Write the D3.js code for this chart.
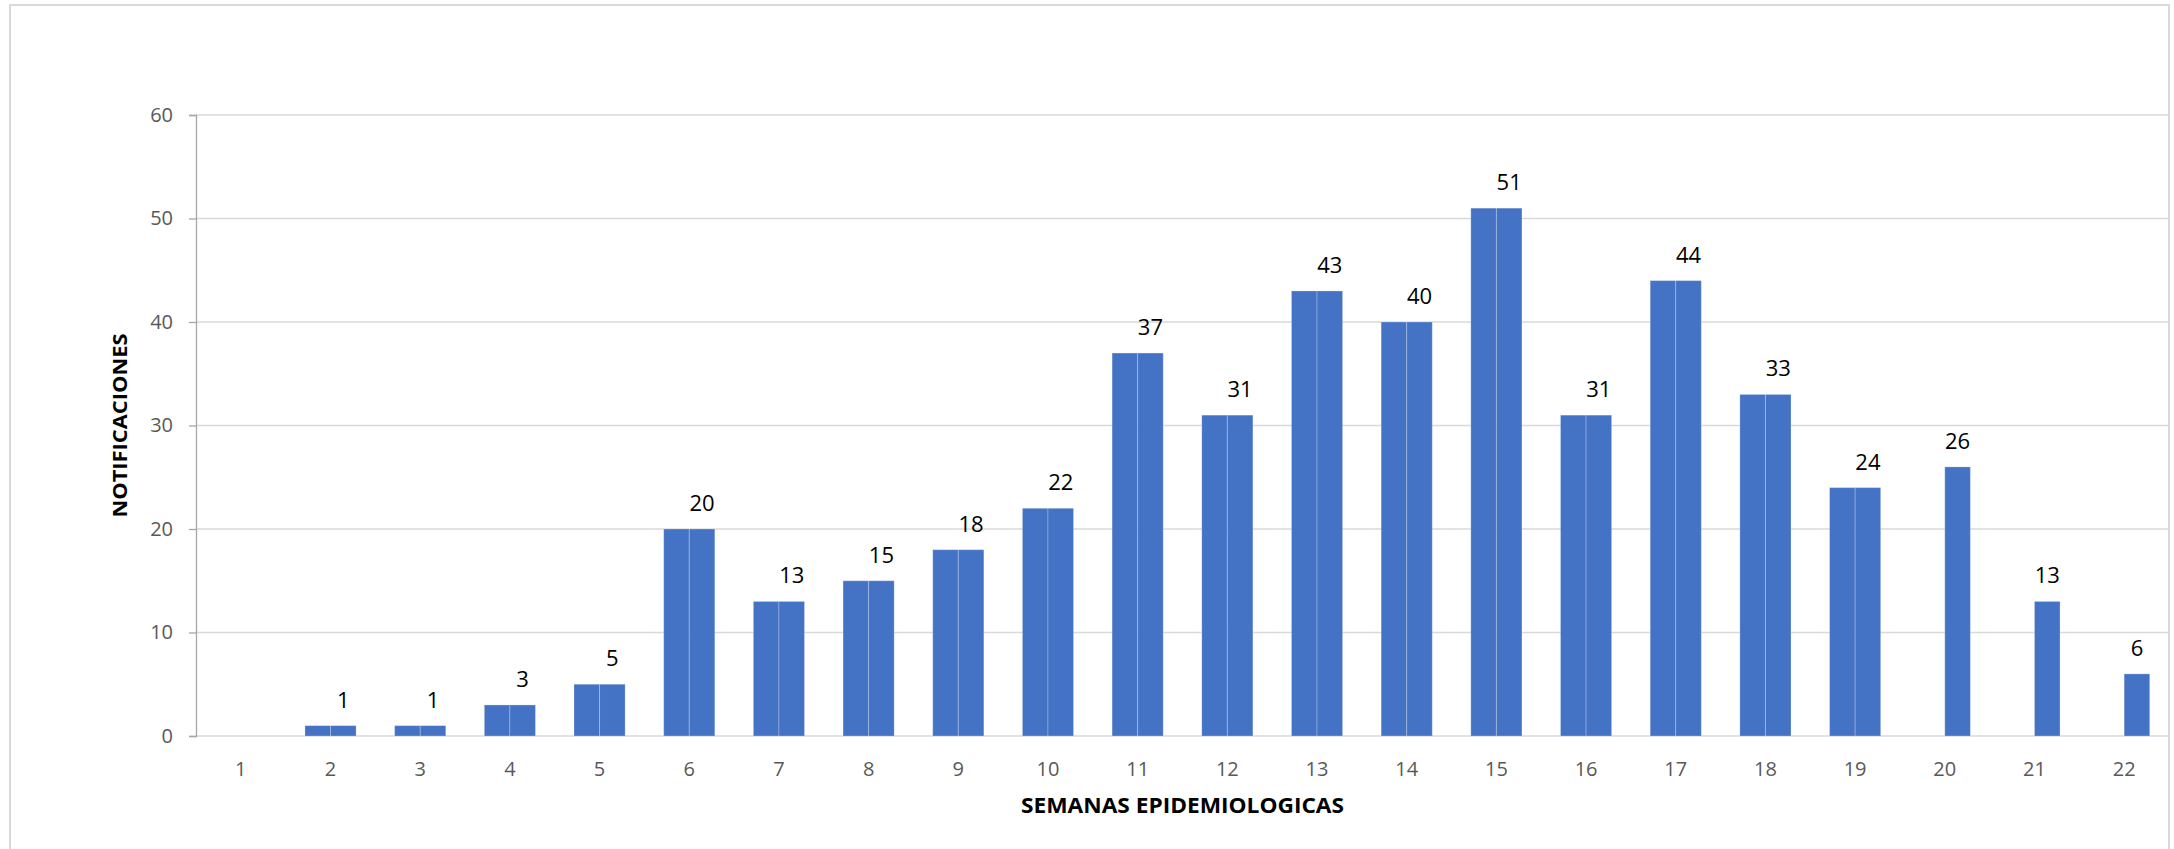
<!DOCTYPE html>
<html>
<head>
<meta charset="utf-8">
<script src="https://cdn.jsdelivr.net/npm/d3@7"></script>
<style>
  html, body { margin: 0; padding: 0; background: #ffffff; }
  svg { display: block; }
</style>
</head>
<body>
<svg id="chart" width="2174" height="849"></svg>
<script>
// ---- data ----
const weeks = ["1","2","3","4","5","6","7","8","9","10","11","12","13","14","15","16","17","18","19","20","21","22"];
const seriesA = [null,1,1,3,5,20,13,15,18,22,37,31,43,40,51,31,44,33,24,null,null,null];
const seriesB = [null,1,1,3,5,20,13,15,18,22,37,31,43,40,51,31,44,33,24,26,13,6];
const yTicks = [0,10,20,30,40,50,60];
const xTitle = "SEMANAS EPIDEMIOLOGICAS";
const yTitle = "NOTIFICACIONES";

// ---- layout ----
const svg = d3.select("#chart");
const plot = { left: 196, right: 2169, top: 115, bottom: 736 };
const font = "'Open Sans', 'Liberation Sans', sans-serif";

// chart border
svg.append("rect")
  .attr("x", 10).attr("y", 5)
  .attr("width", 2159).attr("height", 870)
  .attr("fill", "#ffffff")
  .attr("stroke", "#d9d9d9").attr("stroke-width", 2);

const x = d3.scaleBand().domain(weeks).range([plot.left, plot.right]).paddingInner(0).paddingOuter(0);
const bw = x.bandwidth();
const x1 = d3.scaleBand().domain(["A","B"]).range([bw * 0.215, bw * 0.785]).padding(0);
const y = d3.scaleLinear().domain([0, 60]).range([plot.bottom, plot.top]);

// gridlines
svg.append("g").selectAll("line")
  .data(yTicks)
  .join("line")
  .attr("x1", plot.left).attr("x2", plot.right)
  .attr("y1", d => y(d)).attr("y2", d => y(d))
  .attr("stroke", "#d9d9d9").attr("stroke-width", 1.5);

// bars
const rows = weeks.map((w, i) => ({ week: w, A: seriesA[i], B: seriesB[i] }));
const barG = svg.append("g");
["A","B"].forEach(key => {
  barG.selectAll("rect.s" + key)
    .data(rows.filter(r => r[key] != null))
    .join("rect")
    .attr("class", "s" + key)
    .attr("x", d => x(d.week) + x1(key))
    .attr("width", x1.bandwidth())
    .attr("y", d => y(d[key]))
    .attr("height", d => y(0) - y(d[key]))
    .attr("fill", "#4472c4")
    .attr("stroke", "#ffffff").attr("stroke-opacity", 0.25).attr("stroke-width", 1);
});

// data labels (series B)
svg.append("g").selectAll("text")
  .data(rows.filter(r => r.B != null))
  .join("text")
  .attr("x", d => x(d.week) + x1("B") + x1.bandwidth() / 2)
  .attr("y", d => y(d.B) - 18)
  .attr("text-anchor", "middle")
  .attr("font-family", font).attr("font-size", 22)
  .attr("fill", "#000000")
  .text(d => d.B);

// y axis
const yAxis = svg.append("g")
  .attr("transform", `translate(${plot.left},0)`)
  .call(d3.axisLeft(y).tickValues(yTicks).tickSize(7).tickPadding(16));
yAxis.select(".domain").attr("stroke", "#a6a6a6").attr("stroke-width", 1.3);
yAxis.selectAll(".tick line").attr("stroke", "#a6a6a6").attr("stroke-width", 1.3);
yAxis.selectAll(".tick text")
  .attr("font-family", font).attr("font-size", 20).attr("fill", "#595959");

// x axis
const xAxis = svg.append("g")
  .attr("transform", `translate(0,${plot.bottom})`)
  .call(d3.axisBottom(x).tickSize(0));
xAxis.select(".domain").remove();
xAxis.selectAll(".tick text")
  .attr("y", 40).attr("dy", 0)
  .attr("font-family", font).attr("font-size", 20).attr("fill", "#595959");

// axis titles
svg.append("text")
  .attr("x", (plot.left + plot.right) / 2).attr("y", 813)
  .attr("text-anchor", "middle")
  .attr("font-family", font).attr("font-weight", "bold").attr("font-size", 21)
  .attr("textLength", 323).attr("lengthAdjust", "spacingAndGlyphs")
  .attr("fill", "#000000")
  .text(xTitle);

svg.append("text")
  .attr("transform", `translate(127,${(plot.top + plot.bottom) / 2}) rotate(-90)`)
  .attr("text-anchor", "middle")
  .attr("font-family", font).attr("font-weight", "bold").attr("font-size", 19)
  .attr("textLength", 184).attr("lengthAdjust", "spacingAndGlyphs")
  .attr("fill", "#000000")
  .text(yTitle);
</script>
</body>
</html>
